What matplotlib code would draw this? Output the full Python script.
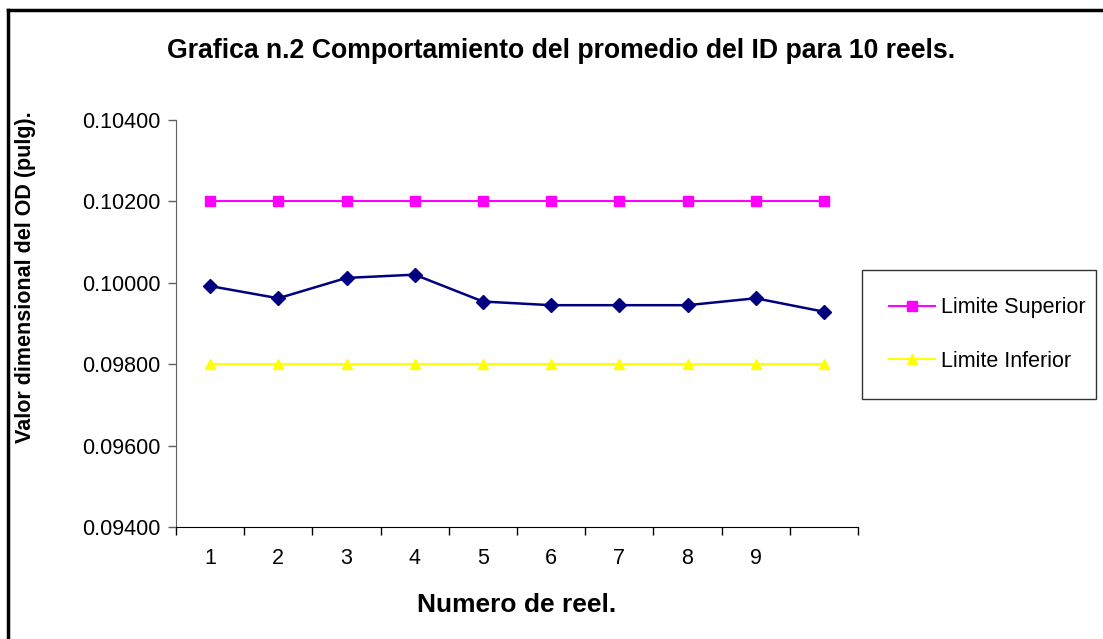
import matplotlib
matplotlib.use("Agg")
import matplotlib.pyplot as plt
from matplotlib.lines import Line2D

# ---------------------------------------------------------------------------
# Data
# ---------------------------------------------------------------------------
reels = [1, 2, 3, 4, 5, 6, 7, 8, 9, 10]
reel_labels = ["1", "2", "3", "4", "5", "6", "7", "8", "9", ""]
promedio_id = [0.09992, 0.09962, 0.10012, 0.10020, 0.09954,
               0.09945, 0.09945, 0.09945, 0.09962, 0.09929]
limite_superior = [0.102] * 10
limite_inferior = [0.098] * 10
y_ticks = [0.094, 0.096, 0.098, 0.100, 0.102, 0.104]

plt.rcParams["font.family"] = ["Liberation Sans", "DejaVu Sans"]

W, H = 1103, 639
fig = plt.figure(figsize=(W / 100, H / 100), dpi=100)
fig.patch.set_facecolor("white")

# plot area in pixel terms: x 176..858, y 120..527
ax = fig.add_axes([176 / W, 1 - 527 / H, (858 - 176) / W, (527 - 120) / H])

ax.plot(reels, promedio_id, color="#000080", linewidth=1.8,
        marker="D", markersize=7, zorder=3)
ax.plot(reels, limite_superior, color="#FF00FF", linewidth=1.5,
        marker="s", markersize=7, label="Limite Superior", zorder=3)
ax.plot(reels, limite_inferior, color="#FFFF00", linewidth=1.5,
        marker="^", markersize=7.5, label="Limite Inferior", zorder=3)

ax.set_xlim(0.5, 10.5)
ax.set_ylim(0.094, 0.104)
ax.set_yticks(y_ticks)
ax.set_yticklabels([f"{v:.5f}" for v in y_ticks], fontsize=15.5)
ax.tick_params(axis="y", direction="out", length=6, width=1,
               color="#606060", pad=5)

# category boundaries get the tick marks, labels sit at the centres
ax.set_xticks([r - 0.5 for r in reels] + [reels[-1] + 0.5])
ax.set_xticklabels([])
ax.set_xticks(reels, minor=True)
ax.set_xticklabels(reel_labels, minor=True, fontsize=15.5)
ax.tick_params(axis="x", which="major", direction="out", length=6,
               width=1, color="black")
ax.tick_params(axis="x", which="minor", length=0, pad=15)

for side in ("top", "right"):
    ax.spines[side].set_visible(False)
ax.spines["left"].set_color("#606060")
ax.spines["bottom"].set_color("black")

fig.text(561 / W, 1 - 51 / H,
         "Grafica n.2 Comportamiento del promedio del ID para 10 reels.",
         ha="center", va="center", fontsize=19.2, fontweight="bold")
fig.text(26 / W, 1 - 277 / H, "Valor dimensional del OD (pulg).",
         ha="center", va="center", rotation=90, fontsize=15.5,
         fontweight="bold")
fig.text(517 / W, 1 - 605 / H, "Numero de reel.",
         ha="center", va="center", fontsize=19, fontweight="bold")

leg = fig.legend(loc="center",
                 bbox_to_anchor=(862 / W, 1 - 402 / H, (1096 - 862) / W,
                                 (402 - 267) / H),
                 mode="expand", fontsize=15.5, frameon=True, fancybox=False,
                 handlelength=2.15, handletextpad=0.25, labelspacing=1.5,
                 borderpad=1.25, borderaxespad=0)
leg.get_frame().set_edgecolor("black")
leg.get_frame().set_linewidth(1)

# outer chart border (only top and left visible in the crop)
fig.add_artist(Line2D([8 / W, 8 / W], [0, 1 - 10 / H],
                      color="black", linewidth=2.5))
fig.add_artist(Line2D([8 / W, 1], [1 - 10 / H, 1 - 10 / H],
                      color="black", linewidth=2.5))

fig.savefig("out.png", dpi=100)
